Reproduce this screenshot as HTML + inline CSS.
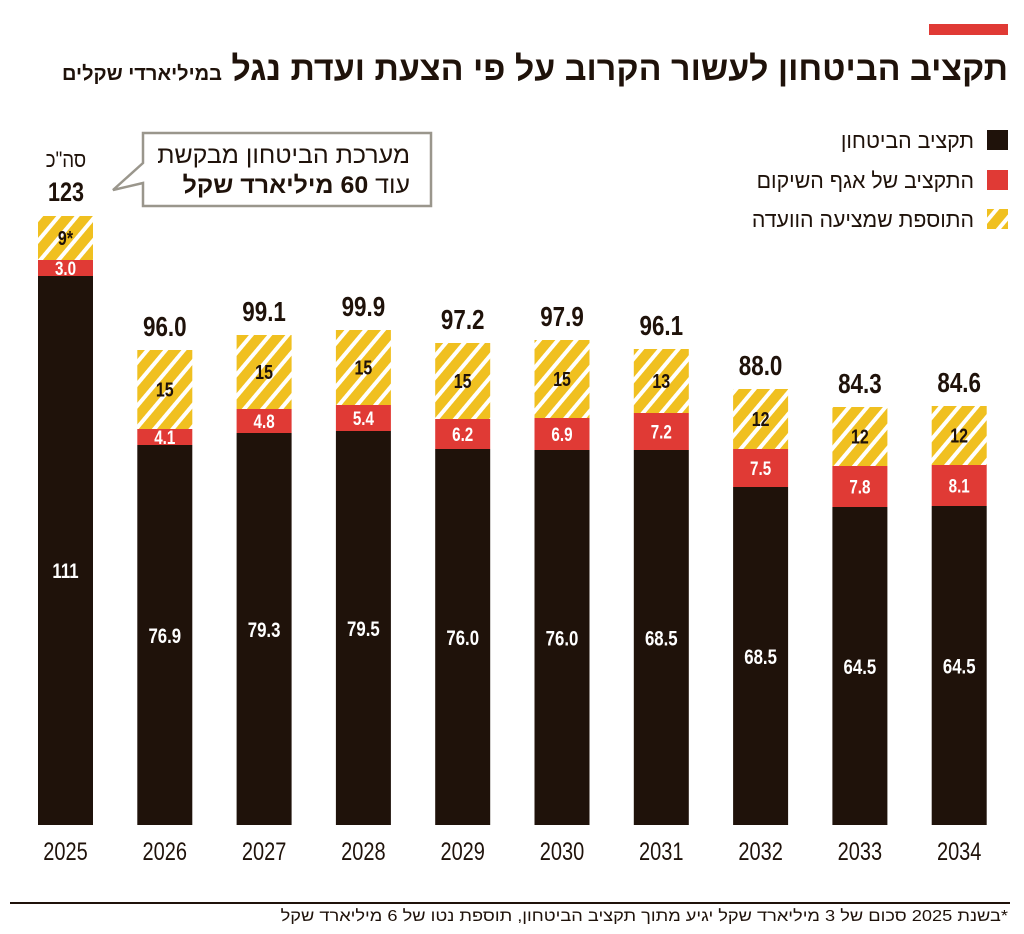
<!DOCTYPE html>
<html><head><meta charset="utf-8"><style>
html,body{margin:0;padding:0;background:#fff;}
svg{display:block;}
text{font-family:"Liberation Sans","Noto Sans CJK SC",sans-serif;}
</style></head><body>
<svg width="1024" height="934" viewBox="0 0 1024 934" xmlns="http://www.w3.org/2000/svg">
<defs>
<pattern id="h" patternUnits="userSpaceOnUse" width="14" height="14" patternTransform="rotate(40)">
<rect width="14" height="14" fill="#f0c020"/><rect width="4" height="14" fill="#fff"/>
</pattern>
</defs>
<rect x="929" y="24" width="79" height="11" fill="#e03a35"/>
<text x="1008" y="80" text-anchor="start" direction="rtl" font-size="34" font-weight="bold" fill="#1f120a" transform="translate(1008,0) scale(1.0,1) translate(-1008,0)">תקציב הביטחון לעשור הקרוב על פי הצעת ועדת נגל <tspan font-size="20">במיליארדי שקלים</tspan></text>

<rect x="987" y="130" width="21" height="20" fill="#1f120a"/>
<rect x="987" y="170" width="21" height="20" fill="#e03a35"/>
<rect x="987" y="209" width="21" height="20" fill="url(#h)"/>
<g font-size="22" fill="#1f120a" text-anchor="start" direction="rtl">
<text x="974" y="148" transform="translate(974,0) scale(0.97,1) translate(-974,0)">תקציב הביטחון</text>
<text x="974" y="188" transform="translate(974,0) scale(0.97,1) translate(-974,0)">התקציב של אגף השיקום</text>
<text x="974" y="227" transform="translate(974,0) scale(0.97,1) translate(-974,0)">התוספת שמציעה הוועדה</text>
</g>

<path d="M143 133 H431 V206 H143 V183 L113 190 L143 163 Z" fill="#fff" stroke="#9a968c" stroke-width="2.5"/>
<g font-size="24" fill="#1f120a" text-anchor="start" direction="rtl">
<text x="410" y="163" transform="translate(410,0) scale(1.04,1) translate(-410,0)">מערכת הביטחון מבקשת</text>
<text x="410" y="193" transform="translate(410,0) scale(1.04,1) translate(-410,0)">עוד <tspan font-weight="bold">60 מיליארד שקל</tspan></text>
</g>
<text x="66" y="167" text-anchor="middle" font-size="22" fill="#1f120a" transform="translate(66,0) scale(0.85,1) translate(-66,0)">סה"כ</text>
<text x="66" y="201" text-anchor="middle" font-size="27" font-weight="bold" fill="#1f120a" transform="translate(66,0) scale(0.8,1) translate(-66,0)">123</text>

<g id="bars"></g>
<line x1="10" y1="903" x2="1010" y2="903" stroke="#1f120a" stroke-width="2"/>
<text x="1008" y="921" text-anchor="start" direction="rtl" font-size="16" fill="#1f120a" transform="translate(1008,0) scale(1.14,1) translate(-1008,0)">*בשנת 2025 סכום של 3 מיליארד שקל יגיע מתוך תקציב הביטחון, תוספת נטו של 6 מיליארד שקל</text>
</svg>
<script>
var d=[[2025,216,260,276,"9*","3.0","111",null],[2026,350,429,445,"15","4.1","76.9","96.0"],[2027,335,409,433,"15","4.8","79.3","99.1"],[2028,330,405,431,"15","5.4","79.5","99.9"],[2029,343,419,449,"15","6.2","76.0","97.2"],[2030,340,418,450,"15","6.9","76.0","97.9"],[2031,349,413,450,"13","7.2","68.5","96.1"],[2032,389,449,487,"12","7.5","68.5","88.0"],[2033,407,466,507,"12","7.8","64.5","84.3"],[2034,406,465,506,"12","8.1","64.5","84.6"]];
var s="",B=825;
function t(x,y,str,fill,size,bold){return '<text x="'+x+'" y="'+y+'" text-anchor="middle" font-size="'+size+'" '+(bold?'font-weight="bold" ':'')+'fill="'+fill+'" transform="translate('+x+',0) scale(0.8,1) translate('+(-x)+',0)">'+str+'</text>';}
d.forEach(function(r,i){var x=38+i*99.3,w=55,c=x+w/2;
s+='<rect x="'+x+'" y="'+r[1]+'" width="'+w+'" height="'+(r[2]-r[1])+'" fill="url(#h)"/>';
s+='<rect x="'+x+'" y="'+r[2]+'" width="'+w+'" height="'+(r[3]-r[2])+'" fill="#e03a35"/>';
s+='<rect x="'+x+'" y="'+r[3]+'" width="'+w+'" height="'+(B-r[3])+'" fill="#1f120a"/>';
s+=t(c,(r[1]+r[2])/2+7,r[4],"#1f120a",20,1);
s+=t(c,(r[2]+r[3])/2+7,r[5],"#fff",19,1);
s+=t(c,(i==0?578:(r[3]+B)/2+8),r[6],"#fff",21,1);
if(r[7])s+=t(c,r[1]-14,r[7],"#1f120a",28,1);
s+=t(c,860,r[0],"#1f120a",25,0);
});
document.getElementById("bars").outerHTML='<g>'+s+'</g>';
</script>
</body></html>
